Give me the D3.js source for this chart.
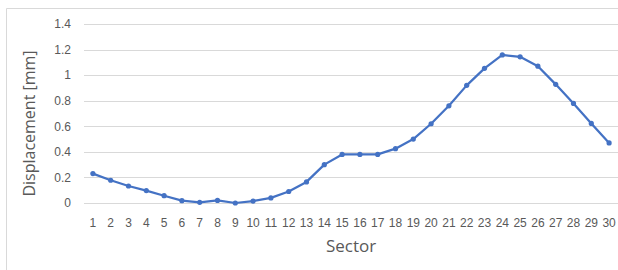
<!DOCTYPE html>
<html lang="en">
<head>
  <meta charset="UTF-8">
  <title>Displacement by Sector</title>
  <script src="https://d3js.org/d3.v7.min.js"></script>
  <style>
    body {
      margin: 0;
      background: #fff;
      font-family: "Open Sans", "Noto Sans", sans-serif;
    }
    .tick text {
      fill: #595959;
      font-size: 12px;
    }
    .axis-title {
      fill: #595959;
    }
  </style>
</head>
<body>
  <svg width="618" height="270"></svg>
  <script>
    // Values
    const sectors = d3.range(1, 31).map(String);
    const displacement = [
      0.23, 0.178, 0.133, 0.097, 0.057, 0.018, 0.005, 0.02, 0.0, 0.015,
      0.04, 0.09, 0.165, 0.30, 0.38, 0.38, 0.38, 0.425, 0.50, 0.62,
      0.76, 0.92, 1.053, 1.158, 1.143, 1.07, 0.928, 0.779, 0.622, 0.47
    ];
    const yTicks = [0, 0.2, 0.4, 0.6, 0.8, 1, 1.2, 1.4];

    const margin = { top: 24, right: 0, bottom: 67, left: 84 };
    const width = 618 - margin.left - margin.right;
    const height = 270 - margin.top - margin.bottom;

    const root = d3.select("svg");

    // chart frame (top and left edges visible in crop)
    root.append("path")
      .attr("d", "M6.5,270 V8.5 H618")
      .attr("fill", "none")
      .attr("stroke", "#d9d9d9")
      .attr("stroke-width", 1);

    const svg = root.append("g")
      .attr("transform", `translate(${margin.left}, ${margin.top})`);

    const x = d3.scaleBand()
      .domain(sectors)
      .range([0, width]);

    const y = d3.scaleLinear()
      .domain([0, 1.4])
      .range([height, 0]);

    // Gridlines
    svg.append("g")
      .selectAll("line")
      .data(yTicks)
      .enter().append("line")
      .attr("x1", 0)
      .attr("x2", width)
      .attr("y1", d => Math.round(y(d)) + 0.5)
      .attr("y2", d => Math.round(y(d)) + 0.5)
      .attr("stroke", "#d9d9d9")
      .attr("stroke-width", 1);

    // Y axis
    const yAxis = svg.append("g")
      .attr("transform", "translate(-10, 0)")
      .call(d3.axisLeft(y).tickValues(yTicks).tickFormat(d3.format("~g")).tickSize(0));
    yAxis.select(".domain").remove();

    // X axis
    const xAxis = svg.append("g")
      .attr("transform", `translate(0, ${height + 12})`)
      .call(d3.axisBottom(x).tickSize(0));
    xAxis.select(".domain").remove();

    // Axis titles
    svg.append("text")
      .attr("class", "axis-title")
      .attr("text-anchor", "middle")
      .style("font-size", "17px")
      .attr("x", width / 2)
      .attr("y", 252 - margin.top)
      .text("Sector");

    svg.append("text")
      .attr("class", "axis-title")
      .attr("text-anchor", "middle")
      .style("font-size", "16px")
      .attr("transform", `translate(${34.5 - margin.left}, ${123.5 - margin.top}) rotate(-90)`)
      .text("Displacement [mm]");

    const pts = sectors.map((s, i) => ({ s, v: displacement[i] }));

    // Line
    svg.append("path")
      .datum(pts)
      .attr("fill", "none")
      .attr("stroke", "#4472C4")
      .attr("stroke-width", 2.25)
      .attr("stroke-linejoin", "round")
      .attr("d", d3.line()
        .x(d => x(d.s) + x.bandwidth() / 2)
        .y(d => y(d.v)));

    // Markers
    svg.selectAll(".dot")
      .data(pts)
      .enter().append("circle")
      .attr("class", "dot")
      .attr("cx", d => x(d.s) + x.bandwidth() / 2)
      .attr("cy", d => y(d.v))
      .attr("r", 2.6)
      .attr("fill", "#4472C4");
  </script>
</body>
</html>
